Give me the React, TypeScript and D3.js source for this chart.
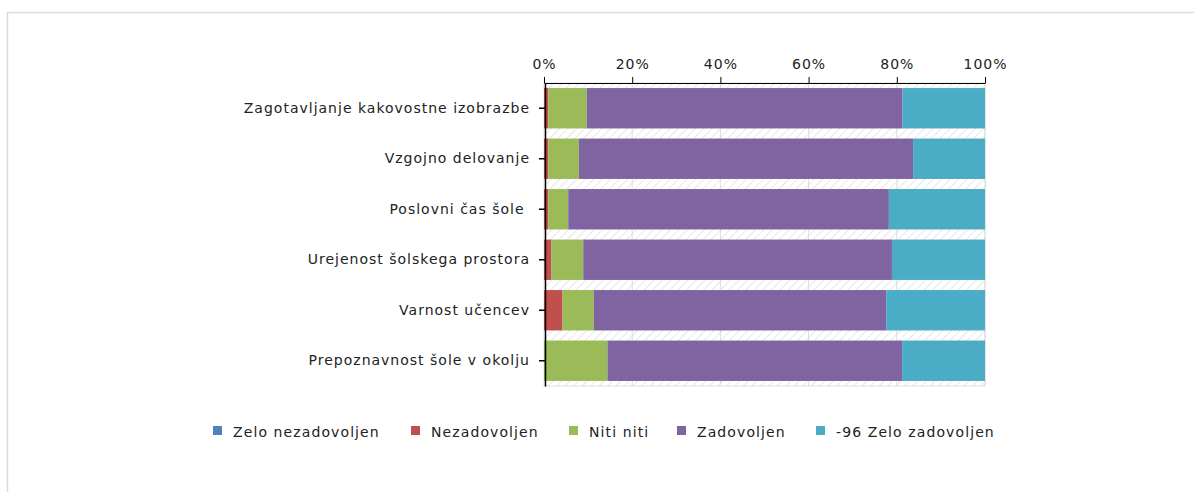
import React, { useEffect, useRef } from 'react';
import * as d3 from 'd3';

// Data (percentages per row)
const categories = [
  'Zagotavljanje kakovostne izobrazbe',
  'Vzgojno delovanje',
  'Poslovni čas šole ',
  'Urejenost šolskega prostora',
  'Varnost učencev',
  'Prepoznavnost šole v okolju',
];

const seriesNames = ['Zelo nezadovoljen', 'Nezadovoljen', 'Niti niti', 'Zadovoljen', '-96 Zelo zadovoljen'];
const seriesColors = ['#4F81BD', '#C0504D', '#9BBB59', '#8064A2', '#4BACC6'];

const zeloNezadovoljen = [0, 0, 0, 0, 0, 0];
const nezadovoljen = [1.0, 1.0, 1.0, 1.7, 4.2, 0];
const nitiNiti = [8.7, 6.9, 4.5, 7.2, 7.1, 14.4];
const zadovoljen = [71.6, 75.8, 72.7, 70.0, 66.3, 66.8];
const zeloZadovoljen = [18.7, 16.3, 21.8, 21.1, 22.4, 18.8];

const xTicks = [0, 20, 40, 60, 80, 100];

const W = 1194;
const H = 492;
const FONT = 'DejaVu Sans, Verdana, sans-serif';
const FONT_SIZE = 14;
const SPACING = '1px';

export default function App() {
  const svgRef = useRef<SVGSVGElement>(null);

  useEffect(() => {
    if (!svgRef.current) return;
    const svg = d3.select(svgRef.current);
    svg.selectAll('*').remove();

    const plot = { left: 544, right: 985, top: 83, bottom: 386 };

    const rows = categories.map((c, i) => ({
      category: c,
      [seriesNames[0]]: zeloNezadovoljen[i],
      [seriesNames[1]]: nezadovoljen[i],
      [seriesNames[2]]: nitiNiti[i],
      [seriesNames[3]]: zadovoljen[i],
      [seriesNames[4]]: zeloZadovoljen[i],
    }));

    const x = d3.scaleLinear().domain([0, 100]).range([plot.left, plot.right]);
    const y = d3
      .scaleBand<string>()
      .domain(categories)
      .range([plot.top, plot.bottom])
      .paddingInner(0.2)
      .paddingOuter(0.1);
    const color = d3.scaleOrdinal<string, string>().domain(seriesNames).range(seriesColors);

    // outer frame
    svg
      .append('rect')
      .attr('x', 7.5)
      .attr('y', 12.5)
      .attr('width', W)
      .attr('height', H)
      .attr('fill', '#fff')
      .attr('stroke', '#dadada')
      .attr('stroke-width', 1.5);

    // hatched plot background
    const defs = svg.append('defs');
    const pat = defs
      .append('pattern')
      .attr('id', 'hatch')
      .attr('patternUnits', 'userSpaceOnUse')
      .attr('width', 6)
      .attr('height', 6)
      .attr('patternTransform', 'rotate(45)');
    pat.append('rect').attr('width', 6).attr('height', 6).attr('fill', '#fff');
    pat.append('line').attr('x1', 0).attr('y1', 0).attr('x2', 0).attr('y2', 6).attr('stroke', '#e6e6e6').attr('stroke-width', 2);

    svg
      .append('rect')
      .attr('x', plot.left)
      .attr('y', plot.top)
      .attr('width', plot.right - plot.left)
      .attr('height', plot.bottom - plot.top)
      .attr('fill', 'url(#hatch)')
      .attr('stroke', '#e0e0e0');

    // vertical gridlines
    svg
      .append('g')
      .selectAll('line')
      .data(xTicks.slice(1))
      .join('line')
      .attr('x1', (d) => x(d))
      .attr('x2', (d) => x(d))
      .attr('y1', plot.top)
      .attr('y2', plot.bottom)
      .attr('stroke', '#dcdcdc')
      .attr('stroke-width', 1);

    // stacked bars
    const stack = d3.stack<any>().keys(seriesNames);
    const layers = stack(rows as any);
    svg
      .append('g')
      .selectAll('g')
      .data(layers)
      .join('g')
      .attr('fill', (d) => color(d.key))
      .selectAll('rect')
      .data((d) => d)
      .join('rect')
      .attr('x', (d) => x(d[0]))
      .attr('width', (d) => Math.max(0, x(d[1]) - x(d[0])))
      .attr('y', (d) => y(d.data.category) as number)
      .attr('height', y.bandwidth());

    // top axis
    const xAxis = svg
      .append('g')
      .attr('transform', `translate(0,${plot.top})`)
      .call(
        d3
          .axisTop(x)
          .tickValues(xTicks)
          .tickSize(6)
          .tickSizeOuter(0)
          .tickPadding(8)
          .tickFormat((d) => `${d}%`)
      );
    xAxis.select('.domain').attr('stroke', '#000').attr('stroke-width', 1);
    xAxis.selectAll('.tick line').attr('stroke', '#000');
    xAxis
      .selectAll('.tick text')
      .attr('font-family', FONT)
      .attr('font-size', FONT_SIZE)
      .attr('fill', '#222')
      .style('letter-spacing', SPACING);

    // left axis
    const yAxis = svg
      .append('g')
      .attr('transform', `translate(${plot.left + 1},0)`)
      .call(d3.axisLeft(y).tickSize(6).tickSizeOuter(0).tickPadding(10));
    yAxis.select('.domain').attr('stroke', '#000').attr('stroke-width', 1.5);
    yAxis.selectAll('.tick line').attr('stroke', '#000').attr('stroke-width', 1.5);
    yAxis
      .selectAll('.tick text')
      .attr('font-family', FONT)
      .attr('font-size', FONT_SIZE)
      .attr('fill', '#222')
      .attr('x', -15)
      .style('letter-spacing', SPACING)
      .style('white-space', 'pre');

    // legend
    const legendX = [213, 411, 569, 677, 816];
    const legend = svg
      .append('g')
      .selectAll('g')
      .data(seriesNames)
      .join('g')
      .attr('transform', (d, i) => `translate(${legendX[i]},426)`);
    legend.append('rect').attr('width', 9).attr('height', 9).attr('fill', (d) => color(d));
    legend
      .append('text')
      .attr('x', 20)
      .attr('y', 10.5)
      .attr('font-family', FONT)
      .attr('font-size', FONT_SIZE)
      .attr('fill', '#222')
      .style('letter-spacing', '1.1px')
      .text((d) => d);
  }, []);

  return (
    <div style={{ position: 'absolute', left: 0, top: 0 }}>
      <svg ref={svgRef} width={W} height={H} style={{ display: 'block' }} />
    </div>
  );
}
